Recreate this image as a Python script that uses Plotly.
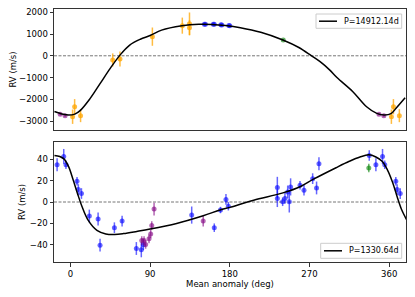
import plotly.graph_objects as go

# ---------------- data ----------------
# Top panel (P=14912.14d): base phases in [0,360)
top_orange_x = [2.5, 4.8, 11.5, 47.8, 56.0, 92.6, 126.4, 134.5, 134.5]
top_orange_y = [-2800, -2340, -2750, -190, -150, 880, 1385, 1470, 1290]
top_orange_e = [330, 350, 300, 300, 345, 420, 370, 520, 350]

top_purple_x = [348.5, 354.0]
top_purple_y = [-2690, -2760]
top_purple_e = [40, 40]

top_blue_x = [151.3, 152.5, 161.4, 162.5, 170.0, 171.0, 179.0, 180.0]
top_blue_y = [1448, 1445, 1448, 1445, 1425, 1420, 1390, 1385]
top_blue_e = [35, 35, 35, 35, 35, 35, 35, 35]

top_green_x = [240.4]
top_green_y = [726]
top_green_e = [30]

top_curve_x = [-18, -8, -2, 5, 11, 22, 33.5, 45, 56, 67, 79, 90, 103, 126, 145,
               160, 175, 192, 215, 240, 258, 272, 282, 293, 301, 319, 334.5,
               346, 355, 362, 368, 378]
top_curve_y = [-2560, -2690, -2725, -2680, -2520, -1980, -1280, -580, 30, 490,
               760, 930, 1180, 1380, 1448, 1440, 1390, 1290, 1080, 726, 380, 5,
               -271, -658, -1000, -1650, -2340, -2646, -2720, -2660, -2400, -1930]

# Bottom panel (P=1330.64d)
bot_blue_x = [345.0, 352.5, 355.0, 7.5, 9.0, 12.5, 21.4, 31.3, 33.5, 49.7, 58.4,
              74.5, 80.1, 82.4, 137.0, 162.5, 169.5, 175.7, 178.4, 233.7, 233.7,
              239.7, 242.3, 245.4, 247.2, 248.7, 259.3, 263.8, 273.6, 278.0,
              280.7, 337.5]
bot_blue_y = [34.8, 42.5, 34.8, 19.3, 11.6, 7.9, -13.1, -15.9, -40.3, -24.0,
              -17.8, -43.4, -44.6, -40.0, -12.2, -24.0, -7.5, 2.4, -3.9, 13.5,
              3.3, 0.2, 3.3, 9.4, 0.2, 14.1, 15.6, 11.0, 21.8, 13.1, 35.7, 43.4]
bot_blue_e = [6, 7, 4, 4, 5, 5, 6, 6, 6, 5, 5, 6, 7, 5, 8, 4, 3, 5, 4, 10, 8,
              4, 5, 6, 10, 8, 4, 5, 5, 6, 6, 5]

bot_purple_x = [80.6, 83.2, 85.0, 88.8, 90.7, 91.9, 94.5, 150.0]
bot_purple_y = [-35.9, -35.9, -39.6, -34.4, -29.8, -22.0, -6.6, -17.8]
bot_purple_e = [4, 4, 4, 4, 4, 4, 6, 5]

bot_green_x = [337.0]
bot_green_y = [31.7]
bot_green_e = [4]

bot_curve_x = [-18, -12, -7, -2, 3, 8, 13, 20, 30, 40, 50, 60, 75, 90, 120, 150,
               169, 180, 207, 240, 260, 275, 300, 315, 327, 337, 345, 352, 358,
               364, 369, 374, 380]
bot_curve_y = [43.5, 42.5, 40, 33, 21, 8, -4, -17, -26.5, -29.8, -30.3, -29.5,
               -27.5, -25.3, -20, -12.8, -7.5, -5.0, 1.7, 8.5, 14.5, 21.5, 32,
               38, 42, 44, 42, 38, 30, 18, 5, -7, -17]

top_label = "P=14912.14d"
bot_label = "P=1330.64d"

top_yticks = [2000, 1000, 0, -1000, -2000, -3000]
bot_yticks = [40, 20, 0, -20, -40]
x_ticks = [0, 90, 180, 270, 360]

XMIN, XMAX = -18.5, 379.0

# The page body has an 8px default margin, so the figure is made 8px smaller
# and margins are measured from that offset.
OFF = 8
W, H = 415 - OFF, 297 - OFF
ML, MR, MT, MB = 54 - OFF, 9, 9 - OFF, 35
PW, PH = W - ML - MR, H - MT - MB


def px2x(px):  # screen pixel -> paper fraction
    return (px - OFF - ML) / PW


def px2y(py):
    return (H - MB - (py - OFF)) / PH


def fold(xs, ys, es):
    ox, oy, oe = [], [], []
    for x, y, e in zip(xs, ys, es):
        for s in (-360, 0, 360):
            xx = x + s
            if XMIN <= xx <= XMAX:
                ox.append(xx); oy.append(y); oe.append(e)
    return ox, oy, oe


def pts(xs, ys, es, color, xa, ya):
    fx, fy, fe = fold(xs, ys, es)
    return go.Scatter(x=fx, y=fy, mode="markers", xaxis=xa, yaxis=ya,
                      marker=dict(color=color, size=5, line=dict(width=0)),
                      error_y=dict(type="data", array=fe, color=color,
                                   thickness=1.5, width=0),
                      showlegend=False, hoverinfo="skip")


ORANGE = "rgba(255,165,0,0.75)"
PURPLE = "rgba(128,0,128,0.6)"
BLUE = "rgba(0,0,255,0.6)"
GREEN = "rgba(0,128,0,0.6)"

fig = go.Figure()
for xa, ya in (("x", "y"), ("x2", "y2")):
    fig.add_trace(go.Scatter(x=[XMIN, XMAX], y=[0, 0], mode="lines", xaxis=xa, yaxis=ya,
                             line=dict(color="#777777", width=1, dash="3px,1.5px"),
                             showlegend=False, hoverinfo="skip"))

fig.add_trace(pts(top_orange_x, top_orange_y, top_orange_e, ORANGE, "x", "y"))
fig.add_trace(pts(top_purple_x, top_purple_y, top_purple_e, PURPLE, "x", "y"))
fig.add_trace(pts(top_blue_x, top_blue_y, top_blue_e, BLUE, "x", "y"))
fig.add_trace(pts(top_green_x, top_green_y, top_green_e, GREEN, "x", "y"))
fig.add_trace(go.Scatter(x=top_curve_x, y=top_curve_y, mode="lines", xaxis="x", yaxis="y",
                         line=dict(color="black", width=1.5, shape="spline"),
                         name=top_label, showlegend=False, hoverinfo="skip"))

fig.add_trace(pts(bot_blue_x, bot_blue_y, bot_blue_e, BLUE, "x2", "y2"))
fig.add_trace(pts(bot_purple_x, bot_purple_y, bot_purple_e, PURPLE, "x2", "y2"))
fig.add_trace(pts(bot_green_x, bot_green_y, bot_green_e, GREEN, "x2", "y2"))
fig.add_trace(go.Scatter(x=bot_curve_x, y=bot_curve_y, mode="lines", xaxis="x2", yaxis="y2",
                         line=dict(color="black", width=1.5, shape="spline"),
                         name=bot_label, showlegend=False, hoverinfo="skip"))

FONT = dict(family="DejaVu Sans", size=8.5, color="black")
LFONT = dict(family="DejaVu Sans", size=8, color="black")
axis_common = dict(showline=True, mirror=True, linecolor="#333333", linewidth=1,
                   showgrid=False, zeroline=False, ticks="outside", ticklen=3.5,
                   tickwidth=0.8, tickcolor="#333333", tickfont=FONT,
                   automargin=False, ticklabeloverflow="allow")


def minus(v):
    return str(v).replace("-", "\u2212")


# compact legend boxes (matplotlib-like)
shapes, annotations = [], []
for (bx0, by0, bx1, by1, lx0, lx1, ly, tx, label) in (
        (316, 14, 401.7, 28.3, 319, 337, 21.2, 342.5, top_label),
        (320.7, 243.3, 401.7, 258.3, 324, 342, 250.8, 347.5, bot_label)):
    shapes.append(dict(type="rect", xref="paper", yref="paper",
                       x0=px2x(bx0), x1=px2x(bx1), y0=px2y(by1), y1=px2y(by0),
                       line=dict(color="#cccccc", width=1),
                       fillcolor="rgba(255,255,255,0.8)", layer="above"))
    shapes.append(dict(type="line", xref="paper", yref="paper",
                       x0=px2x(lx0), x1=px2x(lx1), y0=px2y(ly), y1=px2y(ly),
                       line=dict(color="black", width=1.5), layer="above"))
    annotations.append(dict(xref="paper", yref="paper", x=px2x(tx), y=px2y(ly),
                            xanchor="left", yanchor="middle", showarrow=False,
                            text=label, font=LFONT, borderpad=0))

fig.update_layout(
    width=W, height=H,
    margin=dict(l=ML, r=MR, t=MT, b=MB, autoexpand=False),
    paper_bgcolor="white", plot_bgcolor="white",
    font=FONT, showlegend=False,
    xaxis=dict(axis_common, domain=[0, 1], anchor="y", range=[XMIN, XMAX],
               showticklabels=False, ticks="", tickvals=x_ticks),
    yaxis=dict(axis_common, domain=[px2y(130), 1], anchor="x", range=[-3410, 2150],
               tickvals=top_yticks, ticktext=[minus(v) for v in top_yticks],
               title=dict(text="RV (m/s)", font=FONT, standoff=2)),
    xaxis2=dict(axis_common, domain=[0, 1], anchor="y2", range=[XMIN, XMAX],
                tickvals=x_ticks, ticktext=[str(v) for v in x_ticks],
                title=dict(text="Mean anomaly (deg)", font=FONT, standoff=1)),
    yaxis2=dict(axis_common, domain=[0, px2y(142)], anchor="x2", range=[-56, 56],
                tickvals=bot_yticks, ticktext=[minus(v) for v in bot_yticks],
                title=dict(text="RV (m/s)", font=FONT, standoff=2)),
    shapes=shapes, annotations=annotations,
)

fig.write_html("out.html")
